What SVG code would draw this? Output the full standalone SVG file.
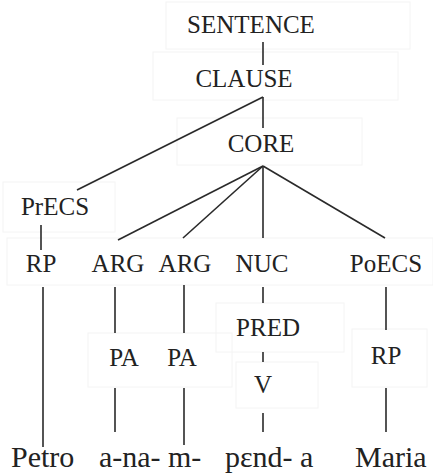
<svg xmlns="http://www.w3.org/2000/svg" width="433" height="474" viewBox="0 0 433 474">
  <style>
    .frame { fill: none; stroke: #f4f4f4; stroke-width: 1; }
    .lbl { font-size: 25px; fill: #222; text-anchor: middle; }
    .word { font-size: 30px; fill: #222; }
    .edge { stroke: #2a2a2a; stroke-width: 1.6; fill: none; stroke-linecap: butt; }
  </style>
  <rect width="433" height="474" fill="#ffffff"/>

  <!-- faint label frames -->
  <g id="frames">
    <rect class="frame" x="166" y="2" width="244" height="47"/>
    <rect class="frame" x="153" y="52" width="245" height="48"/>
    <rect class="frame" x="177" y="118" width="185" height="47"/>
    <rect class="frame" x="3" y="182" width="112" height="50"/>
    <rect class="frame" x="7" y="238" width="426" height="47"/>
    <rect class="frame" x="216" y="303" width="128" height="49"/>
    <rect class="frame" x="88" y="333" width="144" height="54"/>
    <rect class="frame" x="236" y="362" width="82" height="46"/>
    <rect class="frame" x="352" y="329" width="75" height="58"/>
  </g>

  <!-- tree branches -->
  <g id="connectors">
    <line class="edge" x1="263" y1="42" x2="263" y2="65"/>
    <line class="edge" x1="263" y1="97" x2="263" y2="128"/>
    <line class="edge" x1="263" y1="97" x2="77" y2="190"/>
    <line class="edge" x1="263" y1="166" x2="118" y2="240"/>
    <line class="edge" x1="263" y1="166" x2="183" y2="238"/>
    <line class="edge" x1="263" y1="166" x2="263" y2="238"/>
    <line class="edge" x1="263" y1="166" x2="385" y2="238"/>
    <line class="edge" x1="41" y1="225" x2="41" y2="250"/>
    <line class="edge" x1="43" y1="287" x2="43" y2="447"/>
    <line class="edge" x1="115" y1="287" x2="115" y2="333"/>
    <line class="edge" x1="184" y1="285" x2="184" y2="333"/>
    <line class="edge" x1="263" y1="287" x2="263" y2="303"/>
    <line class="edge" x1="386" y1="287" x2="386" y2="330"/>
    <line class="edge" x1="263" y1="352" x2="263" y2="362"/>
    <line class="edge" x1="115" y1="388" x2="115" y2="432"/>
    <line class="edge" x1="184" y1="388" x2="184" y2="445"/>
    <line class="edge" x1="263" y1="413" x2="263" y2="432"/>
    <line class="edge" x1="386" y1="388" x2="386" y2="432"/>
  </g>

  <!-- category nodes -->
  <g font-family="Liberation Serif, serif">
    <g id="n-sentence"><text class="lbl" x="251" y="33">SENTENCE</text></g>
    <g id="n-clause"><text class="lbl" x="244" y="87">CLAUSE</text></g>
    <g id="n-core"><text class="lbl" x="261" y="152">CORE</text></g>
    <g id="n-precs"><text class="lbl" x="55" y="215">PrECS</text></g>
    <g id="n-rp1"><text class="lbl" x="41" y="272">RP</text></g>
    <g id="n-arg1"><text class="lbl" x="118" y="272">ARG</text></g>
    <g id="n-arg2"><text class="lbl" x="185" y="272">ARG</text></g>
    <g id="n-nuc"><text class="lbl" x="262" y="272">NUC</text></g>
    <g id="n-poecs"><text class="lbl" x="386" y="272">PoECS</text></g>
    <g id="n-pred"><text class="lbl" x="268" y="336">PRED</text></g>
    <g id="n-pa1"><text class="lbl" x="124" y="366">PA</text></g>
    <g id="n-pa2"><text class="lbl" x="182" y="366">PA</text></g>
    <g id="n-v"><text class="lbl" x="263" y="393">V</text></g>
    <g id="n-rp2"><text class="lbl" x="386" y="364">RP</text></g>

    <!-- surface words -->
    <g id="words">
      <text class="word" x="11" y="467">Petro</text>
      <text class="word" x="99" y="467">a-na-</text>
      <text class="word" x="168" y="467">m-</text>
      <text class="word" x="225" y="467">pɛnd- a</text>
      <text class="word" x="355" y="467">Maria</text>
    </g>
  </g>
</svg>
